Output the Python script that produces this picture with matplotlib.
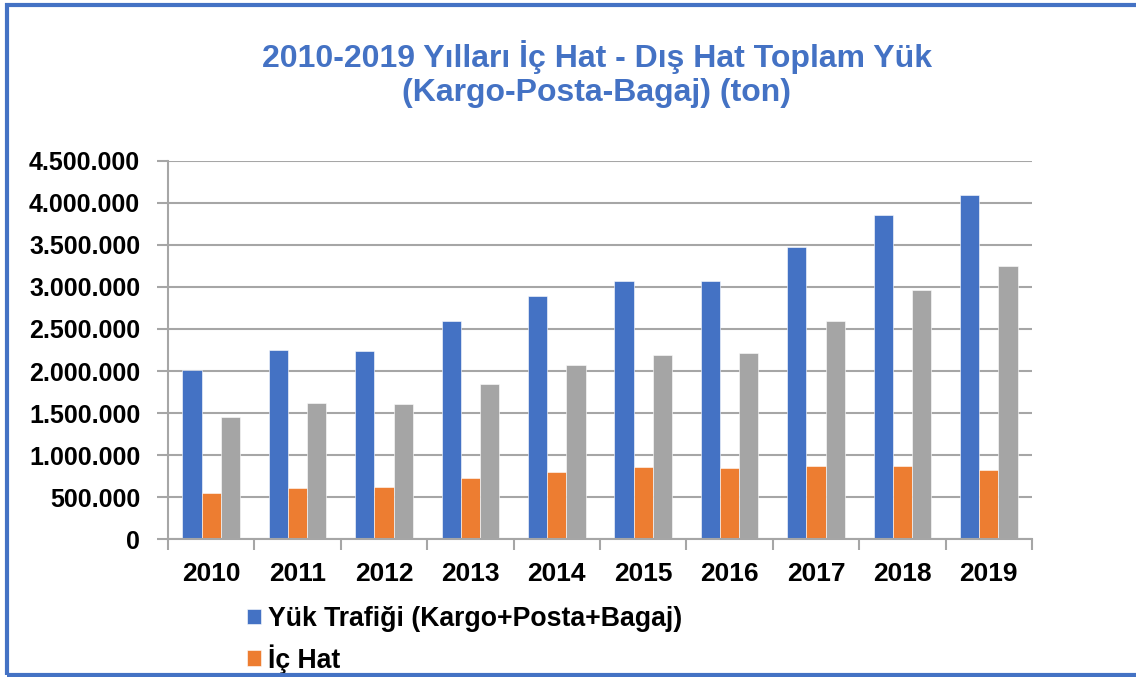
import numpy as np
import matplotlib
matplotlib.use("Agg")
import matplotlib.pyplot as plt
from matplotlib.patches import Rectangle
from matplotlib.ticker import FuncFormatter, FixedLocator

plt.rcParams['font.family'] = ['Liberation Sans', 'DejaVu Sans']

# veriler (ton)
years = ['2010', '2011', '2012', '2013', '2014', '2015', '2016', '2017', '2018', '2019']
yuk_trafigi = [2013000, 2246000, 2243000, 2591000, 2888000, 3067000, 3075000, 3479000, 3855000, 4089000]
ic_hat = [547000, 610000, 626000, 733000, 804000, 864000, 848000, 876000, 876000, 828000]
dis_hat = [1458000, 1624000, 1609000, 1846000, 2072000, 2195000, 2215000, 2591000, 2964000, 3253000]

c_blue = '#4472C4'
c_orange = '#ED7D31'
c_gray = '#A5A5A5'
grid_c = '#A6A6A6'

fig = plt.figure(figsize=(11.36, 6.77), dpi=100)
ax = fig.add_axes([168 / 1136, 1 - 539.3 / 677, (1032 - 168) / 1136, (539.3 - 160.7) / 677])

x = np.arange(len(years))
w = 1 / 4.5
b1 = ax.bar(x - w, yuk_trafigi, w, color=c_blue, edgecolor='white', linewidth=0.4, zorder=3,
            label='Yük Trafiği (Kargo+Posta+Bagaj)')
b2 = ax.bar(x, ic_hat, w, color=c_orange, edgecolor='white', linewidth=0.4, zorder=3, label='İç Hat')
b3 = ax.bar(x + w, dis_hat, w, color=c_gray, edgecolor='white', linewidth=0.4, zorder=3, label='Dış Hat')

ax.set_xlim(-0.5, len(years) - 0.5)
ax.set_ylim(0, 4500000)
ax.set_yticks(np.arange(0, 4500001, 500000))
ax.yaxis.set_major_formatter(FuncFormatter(lambda v, p: '{:,.0f}'.format(v).replace(',', '.')))
ax.grid(axis='y', color=grid_c, linewidth=1.5, zorder=0)

ax.set_xticks(x)
ax.set_xticklabels(years)
ax.xaxis.set_minor_locator(FixedLocator(np.arange(-0.5, len(years), 1)))
ax.tick_params(axis='x', which='major', length=0, pad=16, labelsize=19)
ax.tick_params(axis='x', which='minor', length=8, color=grid_c, width=1.5)
ax.tick_params(axis='y', length=8, color=grid_c, width=1.5, pad=12, labelsize=18)
for lab in ax.get_xticklabels() + ax.get_yticklabels():
    lab.set_fontweight('bold')

for s in ['top', 'right']:
    ax.spines[s].set_visible(False)
for s in ['left', 'bottom']:
    ax.spines[s].set_color(grid_c)
    ax.spines[s].set_linewidth(1.5)
ax.spines['bottom'].set_zorder(4)

fig.text(597 / 1136, 1 - 74 / 677, '2010-2019 Yılları İç Hat - Dış Hat Toplam Yük\n(Kargo-Posta-Bagaj) (ton)',
         ha='center', va='center', fontsize=23, fontweight='bold', color=c_blue, linespacing=1.15)

# lejant: gri seri referansta görünmüyor
leg = fig.legend(handles=[b1, b2], loc='upper left', bbox_to_anchor=(247 / 1136, 1 - 606 / 677),
                 frameon=False, fontsize=19.2, handlelength=0.52, handleheight=0.52, handletextpad=0.26,
                 labelspacing=0.45, borderaxespad=0, borderpad=0)
for t in leg.get_texts():
    t.set_fontweight('bold')

# mavi çerçeve
fig.patches.append(Rectangle((7 / 1136, 2 / 677), 1.05, 1 - 7 / 677, transform=fig.transFigure,
                             fill=False, edgecolor=c_blue, linewidth=3, zorder=10))

fig.savefig('out.png', dpi=100)
